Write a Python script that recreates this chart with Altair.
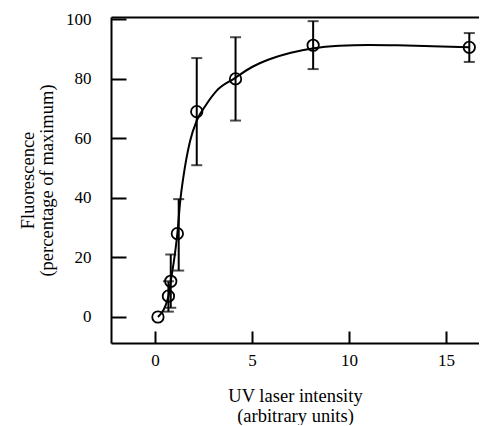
import altair as alt
import pandas as pd

# measured points
pt_x = [0.15, 0.69, 0.81, 1.15, 2.15, 4.15, 8.15, 16.2]
pt_y = [0.0, 7.0, 12.0, 28.0, 69.0, 80.0, 91.3, 90.6]

# error bars
eb_x = [0.69, 0.81, 1.22, 2.15, 4.15, 8.15, 16.2]
eb_lo = [1.8, 3.1, 15.6, 51.0, 66.0, 83.3, 85.7]
eb_hi = [12.0, 21.0, 39.6, 87.0, 94.0, 99.4, 95.4]

# fitted curve
cv_x = [0.15, 0.69, 0.81, 1.0, 1.15, 1.3, 1.46, 1.8, 2.15, 2.6, 3.17, 4.1, 5.0, 5.9, 7.0, 8.2, 9.5, 11.0, 12.5, 14.3, 16.2]
cv_y = [0.0, 7.0, 12.0, 20.0, 28.0, 39.0, 47.0, 59.0, 66.0, 71.0, 76.0, 80.2, 84.0, 86.6, 88.8, 90.3, 91.1, 91.4, 91.3, 91.0, 90.6]

x_ticks = [0, 5, 10, 15]
y_ticks = [0, 20, 40, 60, 80, 100]

pts = pd.DataFrame({"x": pt_x, "y": pt_y})
ebs = pd.DataFrame({"x": eb_x, "lo": eb_lo, "hi": eb_hi})
cv = pd.DataFrame({"x": cv_x, "y": cv_y})

W, H = 368, 326
FONT = "Liberation Serif"
xs = alt.Scale(domain=[-2.27, 16.70], nice=False, zero=False)
ys = alt.Scale(domain=[-8.74, 100.8], nice=False, zero=False)

x_main = alt.Axis(values=x_ticks, ticks=False, domain=True, domainColor="black", domainWidth=2,
                  grid=False, labelPadding=9, labelFontSize=17, labelFont=FONT, labelColor="black",
                  title=["UV laser intensity", "(arbitrary units)"], titleFont=FONT,
                  titleFontSize=18.5, titleFontWeight="normal", titleColor="black",
                  titlePadding=18, titleLineHeight=20)
y_main = alt.Axis(values=y_ticks, ticks=False, domain=True, domainColor="black", domainWidth=2,
                  grid=False, labelPadding=20, labelFontSize=17, labelFont=FONT, labelColor="black",
                  title=["Fluorescence", "(percentage of maximum)"], titleFont=FONT,
                  titleFontSize=18.5, titleFontWeight="normal", titleColor="black",
                  titlePadding=9, titleLineHeight=19)

curve = alt.Chart(cv).mark_line(color="black", strokeWidth=2, interpolate="monotone").encode(
    x=alt.X("x:Q", scale=xs, axis=x_main),
    y=alt.Y("y:Q", scale=ys, axis=y_main),
)

rules = alt.Chart(ebs).mark_rule(color="black", strokeWidth=2).encode(
    x=alt.X("x:Q", scale=xs, axis=None), y=alt.Y("lo:Q", scale=ys, axis=None), y2="hi:Q")
cap_lo = alt.Chart(ebs).mark_tick(color="black", orient="horizontal", size=11, thickness=2).encode(
    x=alt.X("x:Q", scale=xs, axis=None), y=alt.Y("lo:Q", scale=ys, axis=None))
cap_hi = alt.Chart(ebs).mark_tick(color="black", orient="horizontal", size=11, thickness=2).encode(
    x=alt.X("x:Q", scale=xs, axis=None), y=alt.Y("hi:Q", scale=ys, axis=None))

points = alt.Chart(pts).mark_point(shape="circle", size=130, color="black", filled=False,
                                   strokeWidth=1.8, opacity=1).encode(
    x=alt.X("x:Q", scale=xs, axis=None), y=alt.Y("y:Q", scale=ys, axis=None))

# inward-pointing ticks
tick_layer = alt.Chart(pts).mark_point(opacity=0).encode(
    x=alt.X("x:Q", scale=xs, axis=alt.Axis(orient="top", offset=-H, values=x_ticks, labels=False,
                                           domain=False, grid=False, tickSize=12, tickWidth=2,
                                           tickColor="black", title=None)),
    y=alt.Y("y:Q", scale=ys, axis=alt.Axis(orient="right", offset=-W, values=y_ticks, labels=False,
                                           domain=False, grid=False, tickSize=15, tickWidth=2,
                                           tickColor="black", title=None)),
)

# top border line
top_layer = alt.Chart(pts).mark_point(opacity=0).encode(
    x=alt.X("x:Q", scale=xs, axis=alt.Axis(orient="top", labels=False, ticks=False, grid=False,
                                           domain=True, domainColor="black", domainWidth=2,
                                           title=None)),
    y=alt.Y("y:Q", scale=ys, axis=None),
)

chart = alt.layer(curve, rules, cap_lo, cap_hi, points, tick_layer, top_layer).resolve_axis(
    x="independent", y="independent"
).properties(
    width=W, height=H,
    autosize=alt.AutoSizeParams(type="none"),
    padding={"left": 103, "top": 9, "right": 0, "bottom": 82},
).configure_view(stroke=None).configure(background="white")

chart.save("out.html", embed_options={"renderer": "svg", "actions": False})
